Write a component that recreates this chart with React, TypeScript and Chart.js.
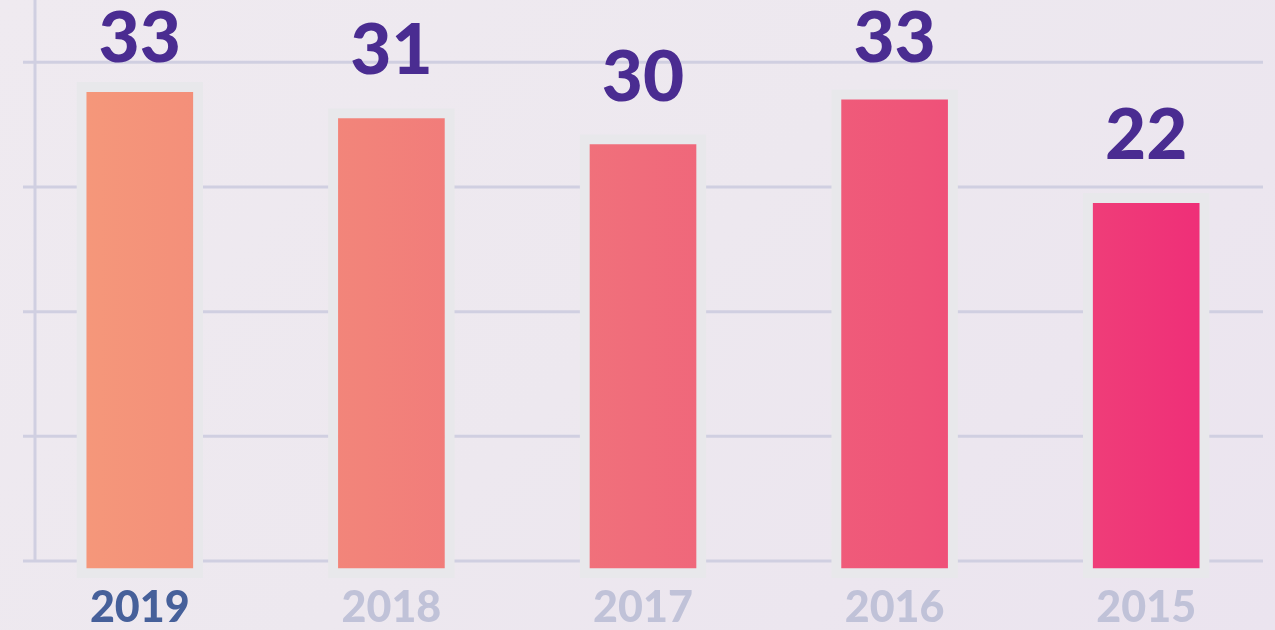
import React, { useEffect, useRef } from "react";
import { Chart, registerables } from "chart.js";

Chart.register(...registerables);

const years = ["2019", "2018", "2017", "2016", "2015"];
const shownValues = ["33", "31", "30", "33", "22"];
// bar top, in axis units (gridlines every 10)
const barTops = [38.4, 36.3, 34.2, 37.8, 29.5];
const barBase = -1.35;
const gridTicks = [0, 10, 20, 30, 40];
const yearColors = ["#46609a", "#c0c2d8", "#c0c2d8", "#c0c2d8", "#c0c2d8"];

const decorPlugin = {
  id: "decor",
  beforeDatasetsDraw(chart: any) {
    const { ctx, scales } = chart;
    const y = scales.y;
    ctx.save();
    ctx.strokeStyle = "#d0cfe1";
    ctx.lineWidth = 3;
    gridTicks.forEach((t) => {
      const py = y.getPixelForValue(t);
      ctx.beginPath();
      ctx.moveTo(23, py);
      ctx.lineTo(1263, py);
      ctx.stroke();
    });
    ctx.beginPath();
    ctx.moveTo(35, 0);
    ctx.lineTo(35, y.getPixelForValue(0));
    ctx.stroke();
    ctx.restore();
  },
  afterDatasetsDraw(chart: any) {
    const { ctx } = chart;
    const meta = chart.getDatasetMeta(0);
    ctx.save();
    ctx.fillStyle = "#4a2c91";
    ctx.font = "900 71px Lato";
    ctx.textAlign = "center";
    ctx.textBaseline = "alphabetic";
    meta.data.forEach((bar: any, i: number) => {
      const by = Math.max(bar.y - 34, 62);
      ctx.fillText(shownValues[i], bar.x, by);
    });
    ctx.restore();
  },
};

export default function App() {
  const ref = useRef<HTMLCanvasElement>(null);
  useEffect(() => {
    document.body.style.margin = "0";
    const canvas = ref.current!;
    const chart = new Chart(canvas, {
      type: "bar",
      data: {
        labels: years,
        datasets: [
          {
            data: barTops,
            base: barBase,
            barThickness: 126,
            borderWidth: 10,
            borderColor: "#e8e8eb",
            borderSkipped: false,
            clip: false as any,
            backgroundColor: (c: any) => {
              const area = c.chart.chartArea;
              if (!area) return "#f17a7a";
              const g = c.chart.ctx.createLinearGradient(87, 0, 1199, 0);
              g.addColorStop(0, "#f5977a");
              g.addColorStop(0.25, "#f2837a");
              g.addColorStop(0.5, "#f06c7b");
              g.addColorStop(0.75, "#ef5479");
              g.addColorStop(1, "#ef2f78");
              return g;
            },
          } as any,
        ],
      },
      options: {
        animation: false,
        responsive: false,
        layout: { padding: { left: 14, right: 3, top: 0, bottom: 0 } },
        plugins: { legend: { display: false }, tooltip: { enabled: false } },
        scales: {
          x: {
            grid: { display: false, drawTicks: false },
            border: { display: false },
            afterFit: (s: any) => {
              s.height = 69;
            },
            ticks: {
              padding: 21,
              font: { family: "Lato", weight: "900" as any, size: 43 },
              color: (c: any) => yearColors[c.index] || "#c0c2d8",
            },
          },
          y: {
            display: false,
            min: 0,
            max: 45,
            ticks: { stepSize: 10 },
          },
        },
      },
      plugins: [decorPlugin],
    });
    return () => chart.destroy();
  }, []);
  return (
    <div
      style={{
        width: 1275,
        height: 630,
        background: "linear-gradient(135deg, #efeaf0 0%, #ede8ef 50%, #ebe4ef 100%)",
      }}
    >
      <canvas ref={ref} width={1275} height={630} style={{ display: "block" }} />
    </div>
  );
}
